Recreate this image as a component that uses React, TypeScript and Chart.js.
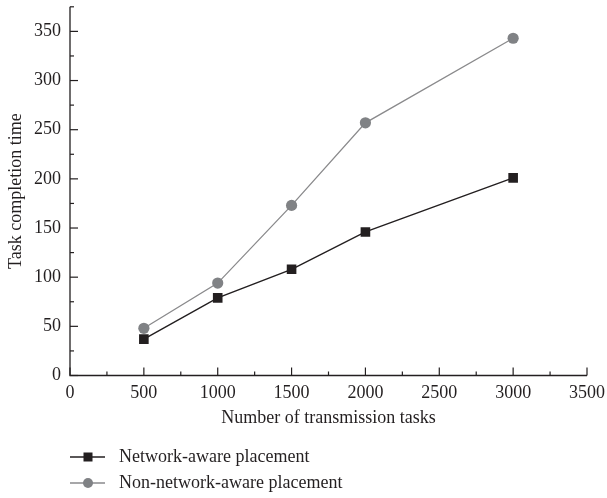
import React, { useEffect, useRef } from "react";
import { Chart, registerables } from "chart.js";

Chart.register(...registerables);

const xValues = [500, 1000, 1500, 2000, 3000];
const networkAware = [37, 79, 108, 146, 201];
const nonNetworkAware = [48, 94, 173, 257, 343];
const seriesNames = ["Network-aware placement", "Non-network-aware placement"];
const xTicks = [0, 500, 1000, 1500, 2000, 2500, 3000, 3500];
const yTicks = [0, 50, 100, 150, 200, 250, 300, 350];
const xTitle = "Number of transmission tasks";
const yTitle = "Task completion time";

const FONT = "'Liberation Serif', 'Times New Roman', serif";
const FS = 18;
const DARK = "#231f20";
const GRAY = "#808285";
const GRAY_LINE = "#8a8a8c";

const axesPlugin = {
  id: "customAxes",
  beforeDatasetsDraw(chart: any) {
    const { ctx } = chart;
    const xs = chart.scales.x;
    const ys = chart.scales.y;
    const x0 = xs.getPixelForValue(xs.min);
    const x1 = xs.getPixelForValue(xs.max);
    const y0 = ys.getPixelForValue(ys.min);
    const y1 = ys.getPixelForValue(ys.max);
    ctx.save();
    ctx.strokeStyle = DARK;
    ctx.lineWidth = 1.3;
    ctx.beginPath();
    ctx.moveTo(x0, y1);
    ctx.lineTo(x0, y0);
    ctx.lineTo(x1, y0);
    ctx.stroke();
    ctx.lineWidth = 1.2;
    const xStep = xTicks[1] - xTicks[0];
    for (let v = xs.min; v <= xs.max + 1e-6; v += xStep / 2) {
      const major = Math.abs(v / xStep - Math.round(v / xStep)) < 1e-6;
      const px = xs.getPixelForValue(v);
      ctx.beginPath();
      ctx.moveTo(px, y0);
      ctx.lineTo(px, y0 - (major ? 8 : 4));
      ctx.stroke();
    }
    const yStep = yTicks[1] - yTicks[0];
    for (let v = ys.min; v <= ys.max + 1e-6; v += yStep / 2) {
      const major = Math.abs(v / yStep - Math.round(v / yStep)) < 1e-6;
      const py = ys.getPixelForValue(v);
      ctx.beginPath();
      ctx.moveTo(x0, py);
      ctx.lineTo(x0 + (major ? 8 : 4), py);
      ctx.stroke();
    }
    ctx.restore();
  },
  afterDraw(chart: any) {
    const { ctx } = chart;
    const rows = [
      { y: 457, color: DARK, lineColor: DARK, style: "rect" },
      { y: 483, color: GRAY, lineColor: GRAY_LINE, style: "circle" },
    ];
    ctx.save();
    rows.forEach((r, i) => {
      ctx.strokeStyle = r.lineColor;
      ctx.lineWidth = 1.4;
      ctx.beginPath();
      ctx.moveTo(70, r.y);
      ctx.lineTo(105, r.y);
      ctx.stroke();
      ctx.fillStyle = r.color;
      if (r.style === "rect") {
        ctx.fillRect(88 - 4.5, r.y - 4.5, 9, 9);
      } else {
        ctx.beginPath();
        ctx.arc(88, r.y, 5, 0, Math.PI * 2);
        ctx.fill();
      }
      ctx.fillStyle = DARK;
      ctx.font = `${FS}px ${FONT}`;
      ctx.textBaseline = "middle";
      ctx.textAlign = "left";
      ctx.fillText(seriesNames[i], 119, r.y);
    });
    ctx.restore();
  },
};

export default function App() {
  const ref = useRef<HTMLCanvasElement | null>(null);
  useEffect(() => {
    if (!ref.current) return;
    const chart = new Chart(ref.current, {
      type: "line",
      data: {
        datasets: [
          {
            label: seriesNames[0],
            data: xValues.map((x, i) => ({ x, y: networkAware[i] })),
            borderColor: DARK,
            backgroundColor: DARK,
            borderWidth: 1.4,
            pointStyle: "rect",
            pointRadius: 6.8,
            pointBorderWidth: 0,
            pointBackgroundColor: DARK,
          },
          {
            label: seriesNames[1],
            data: xValues.map((x, i) => ({ x, y: nonNetworkAware[i] })),
            borderColor: GRAY_LINE,
            backgroundColor: GRAY,
            borderWidth: 1.3,
            pointStyle: "circle",
            pointRadius: 5.6,
            pointBorderWidth: 0,
            pointBackgroundColor: GRAY,
          },
        ],
      },
      options: {
        animation: false,
        responsive: false,
        layout: { padding: { left: 0, right: 20, top: 5.5, bottom: 60 } },
        plugins: { legend: { display: false }, tooltip: { enabled: false } },
        scales: {
          x: {
            type: "linear",
            min: 0,
            max: 3500,
            afterBuildTicks: (s: any) => {
              s.ticks = xTicks.map((v) => ({ value: v }));
            },
            afterFit: (s: any) => {
              s.height = 62.5;
              s.paddingLeft = 0;
              s.paddingRight = 0;
            },
            grid: { display: false, drawTicks: false },
            border: { display: false },
            ticks: {
              padding: 7,
              maxRotation: 0,
              autoSkip: false,
              color: DARK,
              font: { family: FONT, size: FS },
              callback: (v: any) => String(v),
            },
            title: {
              display: true,
              text: xTitle,
              color: DARK,
              font: { family: FONT, size: FS },
              padding: { top: 0, bottom: 9 },
            },
          },
          y: {
            type: "linear",
            min: 0,
            max: 375,
            afterBuildTicks: (s: any) => {
              s.ticks = yTicks.map((v) => ({ value: v }));
            },
            afterFit: (s: any) => {
              s.width = 70;
              s.paddingTop = 0;
              s.paddingBottom = 0;
            },
            grid: { display: false, drawTicks: false },
            border: { display: false },
            ticks: {
              padding: 9,
              color: DARK,
              font: { family: FONT, size: FS },
              callback: (v: any) => String(v),
            },
            title: {
              display: true,
              text: yTitle,
              color: DARK,
              font: { family: FONT, size: FS },
              padding: { top: 5, bottom: 0 },
            },
          },
        },
      },
      plugins: [axesPlugin],
    } as any);
    return () => chart.destroy();
  }, []);
  return (
    <div style={{ position: "absolute", left: 0, top: 0, width: 607, height: 498, background: "#fff" }}>
      <canvas ref={ref} width={607} height={498} style={{ display: "block" }} />
    </div>
  );
}
